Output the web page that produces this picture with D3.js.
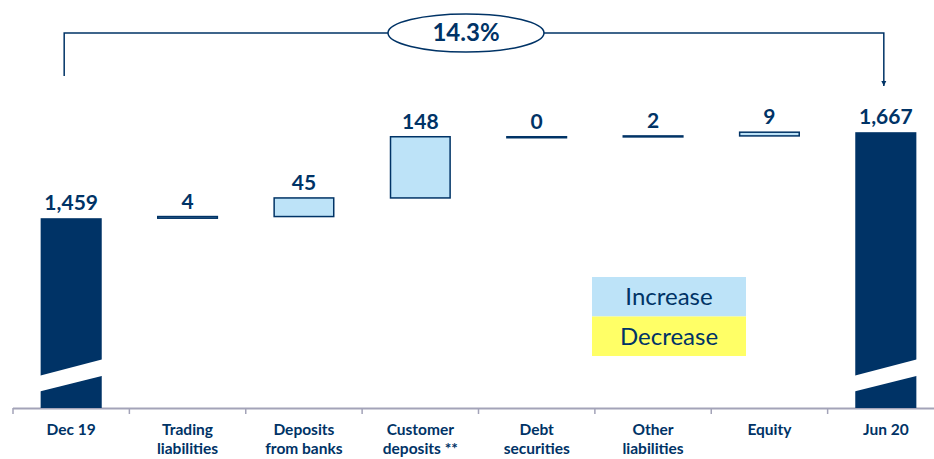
<!DOCTYPE html>
<html>
<head>
<meta charset="utf-8">
<script src="https://cdn.jsdelivr.net/npm/d3@7"></script>
<style>
  body { margin: 0; background: #fff; }
  svg { display: block; font-family: Lato, "Open Sans", sans-serif; }
</style>
</head>
<body>
<svg id="chart" width="934" height="459"></svg>
<script>
// --- data ---
var categories = ['Dec 19', 'Trading liabilities', 'Deposits from banks', 'Customer deposits **',
                  'Debt securities', 'Other liabilities', 'Equity', 'Jun 20'];
var labelLines = [['Dec 19'], ['Trading', 'liabilities'], ['Deposits', 'from banks'], ['Customer', 'deposits **'],
                  ['Debt', 'securities'], ['Other', 'liabilities'], ['Equity'], ['Jun 20']];
var values     = [1459, 4, 45, 148, 0, 2, 9, 1667];
var isTotal    = [true, false, false, false, false, false, false, true];
var valueLabels = ['1,459', '4', '45', '148', '0', '2', '9', '1,667'];
var growthLabel = '14.3%';
var legendItems = ['Increase', 'Decrease'];

var NAVY = '#003366';
var LIGHT = '#bde3f8';
var YELLOW = '#ffff66';

var svg = d3.select('#chart');

// band scale across the axis, broken value scale (bars start at 1000)
var x = d3.scaleBand().domain(categories).range([13, 944]).paddingInner(0.475).paddingOuter(0.2375);
var step = x.step();
var y = d3.scaleLinear().domain([1000, 1700]).range([408, 408 - 700 * 0.4135]);

// running totals for the waterfall
var rows = [];
var running = 0;
for (var i = 0; i < categories.length; i++) {
  var r = { cat: categories[i], v: values[i], label: valueLabels[i], total: isTotal[i] };
  if (isTotal[i]) {
    r.lo = 1000; r.hi = values[i]; running = values[i];
  } else {
    r.lo = running; r.hi = running + values[i]; running = r.hi;
  }
  rows.push(r);
}

// --- axis line and ticks ---
svg.append('line')
  .attr('x1', 13).attr('x2', 934).attr('y1', 408.5).attr('y2', 408.5)
  .attr('stroke', '#a3a3b8').attr('stroke-width', 2);

svg.selectAll('.tick')
  .data(categories)
  .enter().append('line')
  .attr('x1', function(d) { return x(d) + x.bandwidth() / 2 - step / 2; })
  .attr('x2', function(d) { return x(d) + x.bandwidth() / 2 - step / 2; })
  .attr('y1', 408).attr('y2', 414)
  .attr('stroke', '#a3a3b8').attr('stroke-width', 1.5);

// --- bars ---
svg.selectAll('.bar')
  .data(rows)
  .enter().append('rect')
  .attr('x', function(d) { return d.total ? x(d.cat) : x(d.cat) + 0.75; })
  .attr('width', function(d) { return d.total ? x.bandwidth() : x.bandwidth() - 1.5; })
  .attr('y', function(d) { return y(d.hi); })
  .attr('height', function(d) { return Math.max(1, y(d.lo) - y(d.hi)); })
  .attr('fill', function(d) { return d.total ? NAVY : LIGHT; })
  .attr('stroke', function(d) { return d.total ? 'none' : NAVY; })
  .attr('stroke-width', 1.5);

// break marks on the total bars
var breakLo = [1040, 1078];   // left edge of the white stripe (value units)
var breakHi = [1078, 1118];   // right edge
svg.selectAll('.brk')
  .data(rows.filter(function(d) { return d.total; }))
  .enter().append('polygon')
  .attr('fill', '#fff')
  .attr('points', function(d) {
    var x0 = x(d.cat) - 1, x1 = x(d.cat) + x.bandwidth() + 1;
    return [[x0, y(breakLo[0])], [x1, y(breakHi[0])], [x1, y(breakHi[1])], [x0, y(breakLo[1])]]
      .map(function(p) { return p.join(','); }).join(' ');
  });

// value labels
svg.selectAll('.val')
  .data(rows)
  .enter().append('text')
  .attr('x', function(d) { return x(d.cat) + x.bandwidth() / 2; })
  .attr('y', function(d) { return y(d.hi) - 8; })
  .attr('text-anchor', 'middle')
  .attr('font-size', 21).attr('font-weight', 'bold')
  .attr('fill', NAVY)
  .text(function(d) { return d.label; });

// category labels
var catText = svg.selectAll('.cat')
  .data(categories)
  .enter().append('text')
  .attr('text-anchor', 'middle')
  .attr('font-size', 15.5).attr('font-weight', 'bold')
  .attr('fill', NAVY);
catText.each(function(d, i) {
  var t = d3.select(this);
  labelLines[i].forEach(function(line, j) {
    t.append('tspan')
      .attr('x', x(d) + x.bandwidth() / 2)
      .attr('y', 435 + j * 18.6)
      .text(line);
  });
});

// --- growth annotation bracket ---
var xa = x(categories[0]) + x.bandwidth() / 2 - 7;
var xb = x(categories[categories.length - 1]) + x.bandwidth() / 2 - 2;
svg.append('defs').append('marker')
  .attr('id', 'arrow').attr('viewBox', '0 0 10 10')
  .attr('refX', 10).attr('refY', 5)
  .attr('markerWidth', 5).attr('markerHeight', 8)
  .attr('markerUnits', 'userSpaceOnUse')
  .attr('orient', 'auto')
  .append('path').attr('d', 'M0,0 L10,5 L0,10 Z').attr('fill', NAVY);

svg.append('path')
  .attr('d', 'M' + xa + ',76 L' + xa + ',33 L' + xb + ',33 L' + xb + ',86')
  .attr('fill', 'none').attr('stroke', NAVY).attr('stroke-width', 1.5)
  .attr('marker-end', 'url(#arrow)');

svg.append('ellipse')
  .attr('cx', 466).attr('cy', 33).attr('rx', 78).attr('ry', 19)
  .attr('fill', '#fff').attr('stroke', NAVY).attr('stroke-width', 1.5);
svg.append('text')
  .attr('x', 466).attr('y', 41)
  .attr('text-anchor', 'middle')
  .attr('font-size', 24).attr('font-weight', 'bold')
  .attr('fill', NAVY)
  .text(growthLabel);

// --- legend ---
var legend = svg.append('g').attr('transform', 'translate(592,277)');
legend.selectAll('rect')
  .data(legendItems)
  .enter().append('rect')
  .attr('x', 0).attr('y', function(d, i) { return i * 39.5; })
  .attr('width', 154).attr('height', 39.5)
  .attr('fill', function(d, i) { return i === 0 ? LIGHT : YELLOW; });
legend.selectAll('text')
  .data(legendItems)
  .enter().append('text')
  .attr('x', 77).attr('y', function(d, i) { return i * 39.5 + 28; })
  .attr('text-anchor', 'middle')
  .attr('font-size', 24)
  .attr('fill', NAVY)
  .text(function(d) { return d; });
</script>
</body>
</html>
